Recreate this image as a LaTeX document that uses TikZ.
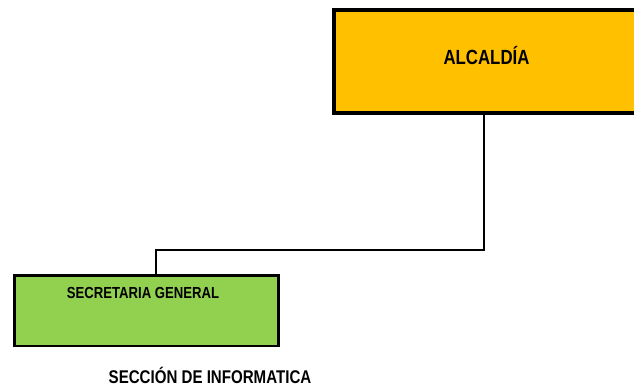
\documentclass[tikz,border=0pt]{standalone}
\usepackage{fontspec}
\setmainfont{Liberation Sans}
\newfontfamily\narrowbold[FakeStretch=0.82]{Liberation Sans Bold}
\definecolor{alcaldia}{HTML}{FFC000}
\definecolor{secgen}{HTML}{92D050}
\tikzset{
  orgbox/.style={draw=black, rectangle, inner sep=0pt, anchor=north west},
  link/.style={draw=black, line width=2pt},
  lbl/.style={font=\narrowbold, text=black, inner sep=0pt}
}
\begin{document}
\begin{tikzpicture}[x=1pt,y=-1pt]
\useasboundingbox (0,0) rectangle (634,388);
\clip (0,0) rectangle (634,388);
% Alcaldia box (runs past the right edge)
\node[orgbox, fill=alcaldia, line width=4pt, minimum width=330pt, minimum height=103pt] (alc) at (332,8) {};
\node[lbl, font=\narrowbold\fontsize{20.5}{22}\selectfont] (alct) at (486.5,56) {ALCALD\'IA};
% Secretaria general box
\node[orgbox, fill=secgen, line width=2.5pt, minimum width=264pt, minimum height=70.5pt] (sg) at (13,274) {};
\node[lbl, font=\narrowbold\fontsize{16}{18}\selectfont] (sgt) at (143,293) {SECRETARIA GENERAL};
% Seccion label
\node[lbl, font=\narrowbold\fontsize{18.4}{20}\selectfont] (inf) at (210,375) {SECCI\'ON DE INFORMATICA};
% connector
\coordinate (top) at (484,111);
\coordinate (bot) at (156,274);
\draw[link] (top) -- (484,250) -- (156,250) -- (bot);
\end{tikzpicture}
\end{document}
